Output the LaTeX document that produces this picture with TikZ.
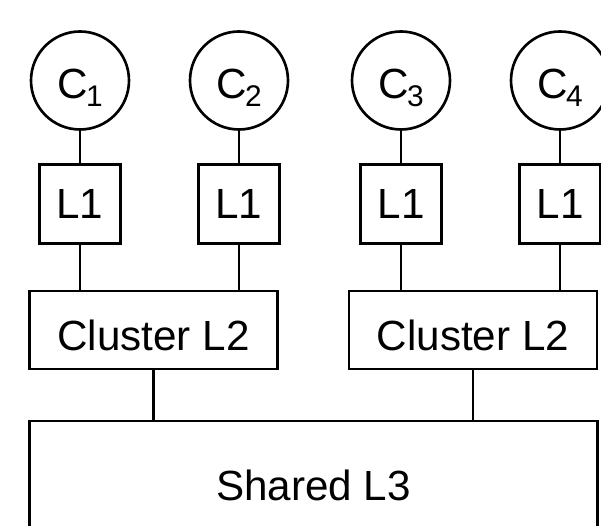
\documentclass[tikz,border=0pt]{standalone}
\usepackage{fontspec}
\setmainfont{Liberation Sans}
\usetikzlibrary{calc}

% core label with a lowered index
\newcommand{\corename}[1]{C\kern-1pt\raisebox{-4.8pt}{\fontsize{17}{17}\selectfont #1}}

\tikzset{
    core/.style={circle, draw, line width=1.5pt, minimum size=1.96cm, inner sep=0pt, text height=20pt, text depth=0pt},
    lonebox/.style={draw, line width=1.5pt, minimum width=1.62cm, minimum height=1.58cm, inner sep=0pt},
    ltwobox/.style={draw, line width=1.5pt, minimum width=4.96cm, minimum height=1.56cm, inner sep=0pt, text height=22.8pt, text depth=0pt},
    lthreebox/.style={draw, line width=1.5pt, minimum width=11.36cm, minimum height=2.56cm},
    wire/.style={line width=1.5pt}
}

\begin{document}
\begin{tikzpicture}[font=\fontsize{24}{28}\selectfont]
        \useasboundingbox (0,0) rectangle (12.02,-10.52);
        %CORES
       \node[core] (c1) at (1.60,-1.61) {\corename{1}};
       \node[core] (c2) at (4.78,-1.61) {\corename{2}};
       \node[core] (c3) at (8.02,-1.61) {\corename{3}};
       \node[core] (c4) at (11.20,-1.61) {\corename{4}};
        %L1 CACHE
       \node[lonebox] (l1a) at (1.60,-4.08) {L1};
       \node[lonebox] (l1b) at (4.78,-4.08) {L1};
       \node[lonebox] (l1c) at (8.02,-4.08) {L1};
       \node[lonebox] (l1d) at (11.20,-4.08) {L1};
        %CLUSTER L2
       \node[ltwobox] (l2a) at (3.07,-6.60) {Cluster L2};
       \node[ltwobox] (l2b) at (9.46,-6.60) {Cluster L2};
        %SHARED L3
       \node[lthreebox] (l3) at (6.27,-9.70) {Shared L3};
        %GARIS CORE - L1
       \draw[wire] (c1) -- (l1a);
       \draw[wire] (c2) -- (l1b);
       \draw[wire] (c3) -- (l1c);
       \draw[wire] (c4) -- (l1d);
        %GARIS L1 - L2
       \draw[wire] (l1a) -- (l1a |- l2a.north);
       \draw[wire] (l1b) -- (l1b |- l2a.north);
       \draw[wire] (l1c) -- (l1c |- l2b.north);
       \draw[wire] (l1d) -- (l1d |- l2b.north);
        %GARIS L2 - L3
       \draw[wire] (l2a) -- (l2a |- l3.north);
       \draw[wire] (l2b) -- (l2b |- l3.north);
    \end{tikzpicture}
\end{document}
